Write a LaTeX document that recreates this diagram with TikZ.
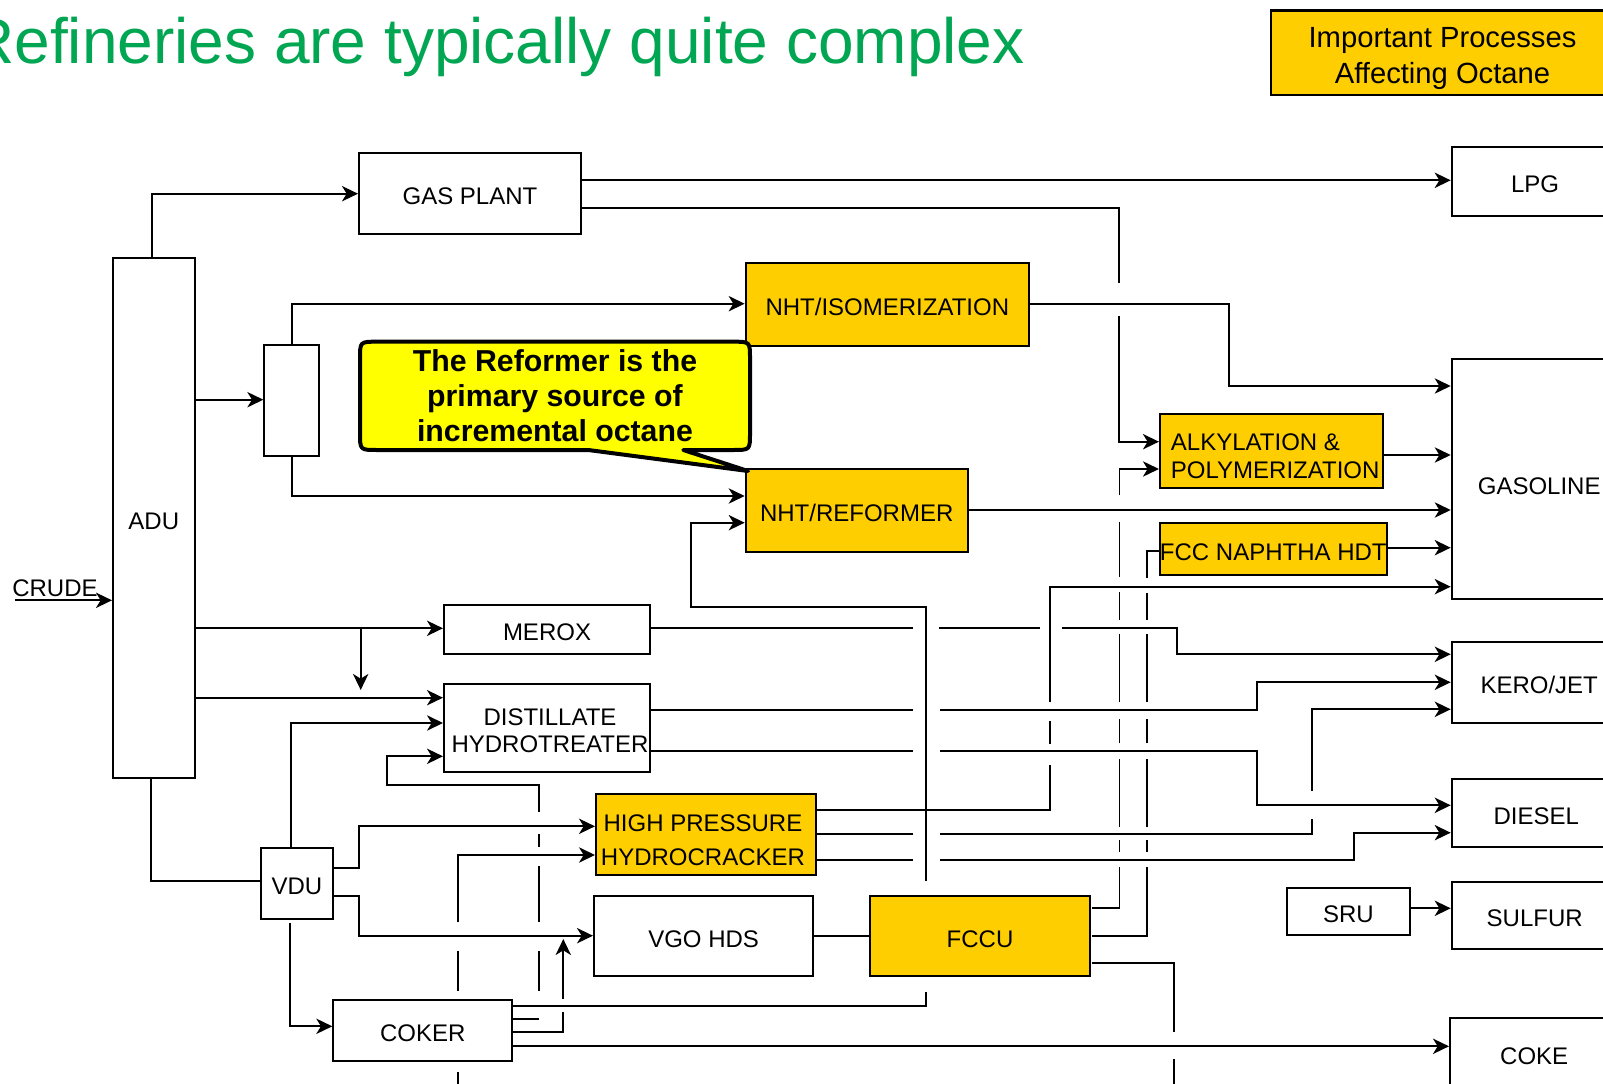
\documentclass[tikz,border=0pt]{standalone}
\usepackage{fontspec}
\setmainfont{Liberation Sans}
\usetikzlibrary{arrows.meta,calc}
\definecolor{octane}{RGB}{255,206,0}
\definecolor{callyellow}{RGB}{255,255,0}
\definecolor{titlegreen}{RGB}{0,166,81}
\tikzset{
  box/.style={draw=black, line width=1.5pt, fill=white, inner sep=0pt,
              font=\fontsize{18}{20}\selectfont, align=center,
              text height=16.9pt, text depth=0pt},
  obox/.style={box, fill=octane},
  sz/.style 2 args={minimum width=#1*0.75pt, minimum height=#2*0.75pt},
  ln/.style={draw=black, line width=1.4pt},
  arr/.style={ln, -{Stealth[length=12pt,width=11.5pt,inset=3.5pt]}},
  mtext/.style={inner sep=0pt, align=center},
}
\begin{document}
\begin{tikzpicture}[x=0.75pt,y=-0.75pt]
\useasboundingbox (0,0) rectangle (1603,1084);
\clip (0,0) rectangle (1603,1084);
\fill[white] (0,0) rectangle (1603,1084);

% title and legend
\node[anchor=base west, inner sep=0pt, text=titlegreen,
      font=\fontsize{48}{50}\selectfont] (title) at (-32,63.4)
      {Refineries are typically quite complex};
\node[obox, line width=2.2pt, sz={343}{84.8}] (legend) at (1442.5,52.6) {};
\node[mtext, font=\fontsize{21.9}{26.9}\selectfont] (legendtext) at (1442.5,58.6)
      {Important Processes\\Affecting Octane};

% units
\node[box, sz={222}{81}] (gas) at (470,193.2) {GAS PLANT};
\node[box, sz={166.6}{68.7}] (lpg) at (1535,181.7) {LPG};
\node[box, sz={81.5}{520.6}] (adu) at (153.75,518) {ADU};
\node[box, sz={54.7}{110.7}] (sb) at (291.7,400.3) {};
\node[obox, sz={283.3}{83}] (iso) at (887.3,304.2) {NHT/ISOMERIZATION};
\node[obox, sz={222}{82.7}] (ref) at (856.7,510.7) {NHT/REFORMER};
\node[obox, sz={222.7}{74.3}] (alky) at (1271.3,451.2) {};
\node[mtext, anchor=west, align=left, font=\fontsize{18}{21.2}\selectfont]
      (alkytext) at (1170.7,456.2) {ALKYLATION \&\\POLYMERIZATION};
\node[obox, sz={226.7}{51.7}] (fcchdt) at (1273.3,549.2) {FCC NAPHTHA HDT};
\node[box, sz={175}{240.3}, text height=23pt] (gasoline) at (1539.2,479.2) {GASOLINE};
\node[box, sz={206}{49.6}] (merox) at (547,629.5) {MEROX};
\node[box, sz={206}{87.7}] (dht) at (547,727.85) {};
\node[mtext, font=\fontsize{18}{20}\selectfont] (dhttext) at (550,730.9)
      {DISTILLATE\\HYDROTREATER};
\node[box, sz={175}{81.6}] (kero) at (1539.2,682.5) {KERO/JET};
\node[obox, sz={220}{80.7}] (hphc) at (706,834.35) {};
\node[mtext, font=\fontsize{18}{25.5}\selectfont] (hphctext) at (703,840)
      {HIGH PRESSURE\\HYDROCRACKER};
\node[box, sz={169.2}{67.7}] (diesel) at (1536.3,812.85) {DIESEL};
\node[box, sz={71.7}{70.7}] (vdu) at (296.85,883.65) {VDU};
\node[box, sz={219.3}{80.6}] (vgo) at (703.65,936) {VGO HDS};
\node[obox, sz={220}{80.6}] (fccu) at (980,936) {FCCU};
\node[box, sz={123.3}{46.7}] (sru) at (1348.35,911.65) {SRU};
\node[box, sz={166}{66.7}] (sulfur) at (1534.7,915.65) {SULFUR};
\node[box, sz={179}{61.3}] (coker) at (422.8,1030.65) {COKER};
\node[box, sz={168.4}{70}] (coke) at (1534.2,1053.3) {COKE};
\node[inner sep=0pt, font=\fontsize{18}{20}\selectfont, text height=16.9pt, text depth=0pt]
      (crude) at (55,585.7) {CRUDE};

% ---- connectors ----
\draw[arr] (adu.north -| 151.7,0) |- (gas.west |- 0,193.7);
\draw[arr] (gas.east |- 0,180.3) -- (lpg.west |- 0,180.3);
\draw[ln] (gas.east |- 0,207.7) -| (1118.7,282.7);
\draw[arr] (1118.7,316) |- (alky.west |- 0,441.7);
\draw[arr] (adu.east |- 0,399.7) -- (sb.west |- 0,399.7);
\draw[arr] (sb.north) |- (iso.west |- 0,303.7);
\draw[arr] (sb.south) |- (ref.west |- 0,496);
\draw[arr] (iso.east |- 0,303.7) -| (1229.3,386) -- (gasoline.west |- 0,386);
\draw[arr] (ref.east |- 0,510) -- (gasoline.west |- 0,510);
\draw[arr] (alky.east |- 0,455) -- (gasoline.west |- 0,455);
\draw[arr] (fcchdt.east |- 0,547.7) -- (gasoline.west |- 0,547.7);

% HPHC top -> gasoline
\draw[ln] (hphc.east |- 0,809.7) -| (1050,765);
\draw[ln] (1050,744) -- (1050,720.7);
\draw[arr] (1050,702.3) |- (gasoline.west |- 0,586.7);

% FCCU -> reformer
\draw[arr] (925.7,880.7) -- (925.7,606.7) -| (691,522.7) -- (ref.west |- 0,522.7);

% crude
\draw[arr] (15,600.3) -- (adu.west |- 0,600.3);

% ADU -> merox / DHT
\draw[arr] (adu.east |- 0,628.3) -- (merox.west |- 0,628.3);
\draw[arr] (360.7,628.3) -- (360.7,690);
\draw[arr] (adu.east |- 0,697.7) -- (dht.west |- 0,697.7);
\draw[arr] (vdu.north -| 290.7,0) |- (dht.west |- 0,723);

% coker -> DHT
\draw[ln] (coker.east |- 0,1019.3) -- (539,1019.3);
\draw[ln] (539,990.7) -- (539,950.7) (539,922.3) -- (539,865.7) (539,846.7) -- (539,834);
\draw[arr] (539,812.3) -- (539,784.7) -| (387,756.3) -- (dht.west |- 0,756.3);

% ADU -> VDU and VDU outputs
\draw[ln] (adu.south -| 151.3,0) |- (vdu.west |- 0,881.3);
\draw[arr] (vdu.east |- 0,868) -| (359,826.3) -- (hphc.west |- 0,826.3);
\draw[arr] (vdu.east |- 0,895.7) -| (359,935.7) -- (vgo.west |- 0,935.7);
\draw[arr] (290,923.3) |- (coker.west |- 0,1026.3);

% feed from below -> HPHC
\draw[ln] (457.7,1090) -- (457.7,1072) (457.7,990.7) -- (457.7,950.7);
\draw[arr] (457.7,922.3) |- (hphc.west |- 0,855);

% coker outputs
\draw[ln] (coker.east |- 0,1005.7) -| (925.7,992.3);
\draw[ln] (coker.east |- 0,1032.3) -| (563.3,1012.3);
\draw[arr] (563.3,999) -- (563.3,939);
\draw[arr] (coker.east |- 0,1046.3) -- (coke.west |- 0,1046.3);

% VGO HDS -> FCCU
\draw[ln] (vgo.east |- 0,936.3) -- (fccu.west |- 0,936.3);

% FCCU -> alkylation
\draw[ln] (1091.7,908.3) -| (1119.5,867.3);
\draw[ln] (1119.5,851.7) -- (1119.5,840) (1119.5,826.7) -- (1119.5,759.3)
          (1119.5,743.3) -- (1119.5,719.3) (1119.5,701.7) -- (1119.5,634)
          (1119.5,620) -- (1119.5,592.3) (1119.5,576.7) -- (1119.5,521.7);
\draw[arr] (1119.5,495) |- (alky.west |- 0,469);

% FCCU -> FCC naphtha HDT
\draw[ln] (1091.7,935.7) -| (1146.7,867.3);
\draw[ln] (1146.7,851.7) -- (1146.7,840) (1146.7,826.7) -- (1146.7,759.3)
          (1146.7,743.3) -- (1146.7,719.3) (1146.7,701.7) -- (1146.7,634)
          (1146.7,620) -- (1146.7,593.3);
\draw[ln] (1146.7,578.3) |- (fcchdt.west |- 0,550.7);

% FCCU bottom output
\draw[ln] (1091.7,963.3) -| (1174,1031.7);
\draw[ln] (1174,1059) -- (1174,1090);

% merox / DHT / HPHC -> products
\draw[ln] (merox.east |- 0,628) -- (912.7,628) (939.3,628) -- (1040.3,628);
\draw[arr] (1061.7,628) -| (1176.7,654.3) -- (kero.west |- 0,654.3);
\draw[ln] (dht.east |- 0,709.7) -- (912.7,709.7);
\draw[arr] (940,709.7) -| (1257.3,682.3) -- (kero.west |- 0,682.3);
\draw[ln] (dht.east |- 0,751) -- (912.7,751);
\draw[arr] (940,751) -| (1257.3,805.3) -- (diesel.west |- 0,805.3);
\draw[ln] (hphc.east |- 0,833.7) -- (912.7,833.7);
\draw[ln] (940,833.7) -| (1312.3,819.3);
\draw[arr] (1312.3,790.7) |- (kero.west |- 0,709.3);
\draw[ln] (hphc.east |- 0,860.3) -- (912.7,860.3);
\draw[arr] (940,860.3) -| (1354,832.7) -- (diesel.west |- 0,832.7);
\draw[arr] (sru.east |- 0,908.3) -- (sulfur.west |- 0,908.3);

% callout
\draw[line width=3pt, fill=callyellow, line join=round]
  (377,341.7) -- (733,341.7) .. controls (750,341.7) .. (750,358.7)
  -- (750,433) .. controls (750,450) .. (733,450)
  -- (683.3,450) -- (748,471) -- (588.3,450)
  -- (377,450) .. controls (360,450) .. (360,433)
  -- (360,358.7) .. controls (360,341.7) .. (377,341.7) -- cycle;
\node[inner sep=0pt, align=center, font=\bfseries\fontsize{22.7}{26.3}\selectfont]
  (callouttext) at (555,396)
  {The Reformer is the\\primary source of\\incremental octane};
\end{tikzpicture}
\end{document}
